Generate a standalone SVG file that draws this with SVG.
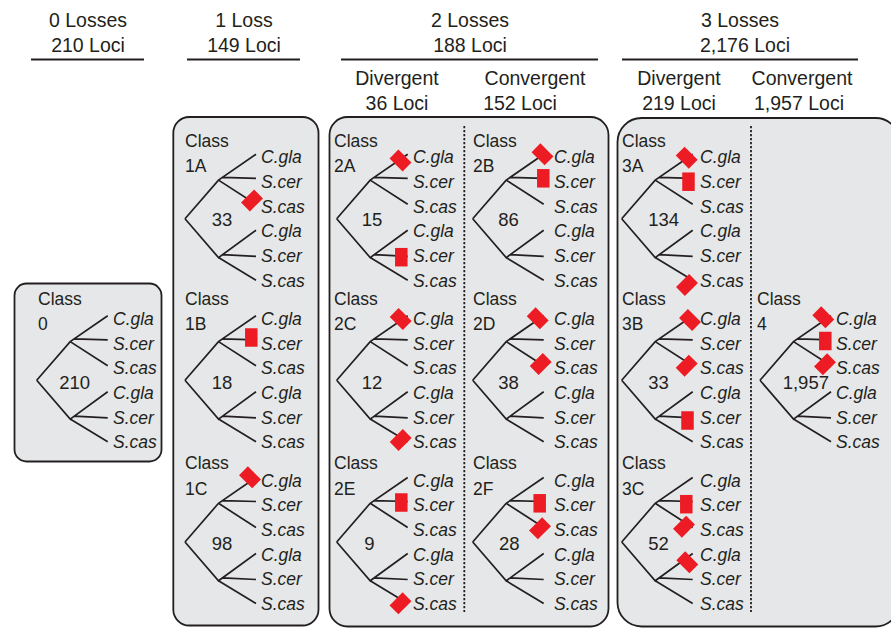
<svg xmlns="http://www.w3.org/2000/svg" xmlns:xlink="http://www.w3.org/1999/xlink" width="891" height="628" viewBox="0 0 891 628">
<style>
text{font-family:"Liberation Sans",Arial,sans-serif;fill:#231f20}
.hd{font-size:19.5px;text-anchor:middle}
.cl{font-size:17.5px}
.num{font-size:18.5px}
.sp{font-size:17.5px;font-style:italic}
.box{fill:#e6e7e8;stroke:#231f20;stroke-width:1.8}
.tr{fill:none;stroke:#231f20;stroke-width:1.7;stroke-linejoin:miter}
.rule{stroke:#231f20;stroke-width:2}
.dash{stroke:#231f20;stroke-width:1.8;stroke-dasharray:2.2 1.8}
.loss{fill:#ed1c24}
</style>
<defs>
<path id="tree" d="M0,55.5 L33.5,16.8 L71,-9 M37.5,14.1 L71,15 M33.5,16.8 L71,41 M0,55.5 L33.5,94.3 L71,67 M37.5,91.4 L71,93 M33.5,94.3 L71,117"/>
<rect id="mk" x="-6.25" y="-9.25" width="12.5" height="18.5"/>
</defs>

<g id="headers">
<text class="hd" x="88" y="27">0 Losses</text>
<text class="hd" x="88" y="52">210 Loci</text>
<line class="rule" x1="31" y1="59.5" x2="144" y2="59.5"/>
<text class="hd" x="244" y="27">1 Loss</text>
<text class="hd" x="244" y="52">149 Loci</text>
<line class="rule" x1="187" y1="59.5" x2="300" y2="59.5"/>
<text class="hd" x="470" y="27">2 Losses</text>
<text class="hd" x="470" y="52">188 Loci</text>
<line class="rule" x1="341" y1="59.5" x2="598" y2="59.5"/>
<text class="hd" x="740" y="27">3 Losses</text>
<text class="hd" x="745" y="52">2,176 Loci</text>
<line class="rule" x1="622" y1="59.5" x2="858" y2="59.5"/>
<text class="hd" x="397" y="85">Divergent</text>
<text class="hd" x="397" y="110">36 Loci</text>
<text class="hd" x="535" y="85">Convergent</text>
<text class="hd" x="520" y="110">152 Loci</text>
<text class="hd" x="679" y="85">Divergent</text>
<text class="hd" x="679" y="110">219 Loci</text>
<text class="hd" x="802" y="85">Convergent</text>
<text class="hd" x="799" y="110">1,957 Loci</text>
</g>

<g id="boxes">
<rect class="box" x="14.5" y="283.5" width="147" height="178" rx="12"/>
<rect class="box" x="173.3" y="117" width="145.2" height="508.5" rx="16"/>
<rect class="box" x="329.5" y="117" width="279" height="509.5" rx="18"/>
<rect class="box" x="617.5" y="118" width="282" height="508.5" rx="24"/>
<line class="dash" x1="464.3" y1="126" x2="464.3" y2="612"/>
<line class="dash" x1="751" y1="126" x2="751" y2="612"/>
</g>

<g id="class-0">
<use href="#tree" class="tr" transform="translate(36.7,324.8)"/>
<text class="cl" x="38" y="305">Class</text><text class="cl" x="38" y="330">0</text>
<text class="num" x="59.3" y="389">210</text>
<text class="sp"><tspan x="113" y="324.8">C.gla</tspan><tspan x="113" y="349.5">S.cer</tspan><tspan x="113" y="374.2">S.cas</tspan><tspan x="113" y="398.9">C.gla</tspan><tspan x="113" y="423.6">S.cer</tspan><tspan x="113" y="448.3">S.cas</tspan></text>
</g>

<g id="class-1A">
<use href="#tree" class="tr" transform="translate(185,163.3)"/>
<text class="cl" x="185" y="147">Class</text><text class="cl" x="185" y="172">1A</text>
<text class="num" x="211.7" y="226">33</text>
<text class="sp"><tspan x="261" y="163.3">C.gla</tspan><tspan x="261" y="188">S.cer</tspan><tspan x="261" y="212.7">S.cas</tspan><tspan x="261" y="237.4">C.gla</tspan><tspan x="261" y="262.1">S.cer</tspan><tspan x="261" y="286.8">S.cas</tspan></text>
<use href="#mk" class="loss" transform="translate(252,200.5) rotate(45)"/>
</g>

<g id="class-1B">
<use href="#tree" class="tr" transform="translate(185,324.8)"/>
<text class="cl" x="185" y="305">Class</text><text class="cl" x="185" y="330">1B</text>
<text class="num" x="211.7" y="388.5">18</text>
<text class="sp"><tspan x="261" y="324.8">C.gla</tspan><tspan x="261" y="349.5">S.cer</tspan><tspan x="261" y="374.2">S.cas</tspan><tspan x="261" y="398.9">C.gla</tspan><tspan x="261" y="423.6">S.cer</tspan><tspan x="261" y="448.3">S.cas</tspan></text>
<use href="#mk" class="loss" transform="translate(251.3,337.5)"/>
</g>

<g id="class-1C">
<use href="#tree" class="tr" transform="translate(185,486.5)"/>
<text class="cl" x="185" y="469">Class</text><text class="cl" x="185" y="495">1C</text>
<text class="num" x="211.7" y="550">98</text>
<text class="sp"><tspan x="261" y="486.5">C.gla</tspan><tspan x="261" y="511.2">S.cer</tspan><tspan x="261" y="535.9">S.cas</tspan><tspan x="261" y="560.6">C.gla</tspan><tspan x="261" y="585.3">S.cer</tspan><tspan x="261" y="610">S.cas</tspan></text>
<use href="#mk" class="loss" transform="translate(250,477.3) rotate(-45)"/>
</g>

<g id="class-2A">
<use href="#tree" class="tr" transform="translate(336.7,163.3)"/>
<text class="cl" x="334" y="147">Class</text><text class="cl" x="334" y="172">2A</text>
<text class="num" x="361.7" y="226">15</text>
<text class="sp"><tspan x="413" y="163.3">C.gla</tspan><tspan x="413" y="188">S.cer</tspan><tspan x="413" y="212.7">S.cas</tspan><tspan x="413" y="237.4">C.gla</tspan><tspan x="413" y="262.1">S.cer</tspan><tspan x="413" y="286.8">S.cas</tspan></text>
<use href="#mk" class="loss" transform="translate(400.5,160.5) rotate(-45)"/>
<use href="#mk" class="loss" transform="translate(401.3,257.2)"/>
</g>

<g id="class-2B">
<use href="#tree" class="tr" transform="translate(472.7,163.3)"/>
<text class="cl" x="473" y="147">Class</text><text class="cl" x="473" y="172">2B</text>
<text class="num" x="498.3" y="226">86</text>
<text class="sp"><tspan x="554" y="163.3">C.gla</tspan><tspan x="554" y="188">S.cer</tspan><tspan x="554" y="212.7">S.cas</tspan><tspan x="554" y="237.4">C.gla</tspan><tspan x="554" y="262.1">S.cer</tspan><tspan x="554" y="286.8">S.cas</tspan></text>
<use href="#mk" class="loss" transform="translate(542.5,154.3) rotate(-45)"/>
<use href="#mk" class="loss" transform="translate(543.3,178.3)"/>
</g>

<g id="class-2C">
<use href="#tree" class="tr" transform="translate(336.7,324.8)"/>
<text class="cl" x="334" y="305">Class</text><text class="cl" x="334" y="330">2C</text>
<text class="num" x="361.7" y="388.5">12</text>
<text class="sp"><tspan x="413" y="324.8">C.gla</tspan><tspan x="413" y="349.5">S.cer</tspan><tspan x="413" y="374.2">S.cas</tspan><tspan x="413" y="398.9">C.gla</tspan><tspan x="413" y="423.6">S.cer</tspan><tspan x="413" y="448.3">S.cas</tspan></text>
<use href="#mk" class="loss" transform="translate(400.7,319) rotate(-45)"/>
<use href="#mk" class="loss" transform="translate(400.7,440) rotate(45)"/>
</g>

<g id="class-2D">
<use href="#tree" class="tr" transform="translate(472.7,324.8)"/>
<text class="cl" x="473" y="305">Class</text><text class="cl" x="473" y="330">2D</text>
<text class="num" x="498.3" y="388.5">38</text>
<text class="sp"><tspan x="554" y="324.8">C.gla</tspan><tspan x="554" y="349.5">S.cer</tspan><tspan x="554" y="374.2">S.cas</tspan><tspan x="554" y="398.9">C.gla</tspan><tspan x="554" y="423.6">S.cer</tspan><tspan x="554" y="448.3">S.cas</tspan></text>
<use href="#mk" class="loss" transform="translate(537.7,318.3) rotate(-45)"/>
<use href="#mk" class="loss" transform="translate(540.7,364) rotate(45)"/>
</g>

<g id="class-2E">
<use href="#tree" class="tr" transform="translate(336.7,486.5)"/>
<text class="cl" x="334" y="469">Class</text><text class="cl" x="334" y="495">2E</text>
<text class="num" x="364.3" y="550">9</text>
<text class="sp"><tspan x="413" y="486.5">C.gla</tspan><tspan x="413" y="511.2">S.cer</tspan><tspan x="413" y="535.9">S.cas</tspan><tspan x="413" y="560.6">C.gla</tspan><tspan x="413" y="585.3">S.cer</tspan><tspan x="413" y="610">S.cas</tspan></text>
<use href="#mk" class="loss" transform="translate(401.3,502.5)"/>
<use href="#mk" class="loss" transform="translate(400.5,603.3) rotate(45)"/>
</g>

<g id="class-2F">
<use href="#tree" class="tr" transform="translate(472.7,486.5)"/>
<text class="cl" x="473" y="469">Class</text><text class="cl" x="473" y="495">2F</text>
<text class="num" x="499" y="550">28</text>
<text class="sp"><tspan x="554" y="486.5">C.gla</tspan><tspan x="554" y="511.2">S.cer</tspan><tspan x="554" y="535.9">S.cas</tspan><tspan x="554" y="560.6">C.gla</tspan><tspan x="554" y="585.3">S.cer</tspan><tspan x="554" y="610">S.cas</tspan></text>
<use href="#mk" class="loss" transform="translate(539.7,503.3)"/>
<use href="#mk" class="loss" transform="translate(540,528.3) rotate(45)"/>
</g>

<g id="class-3A">
<use href="#tree" class="tr" transform="translate(621.7,163.3)"/>
<text class="cl" x="622" y="147">Class</text><text class="cl" x="622" y="172">3A</text>
<text class="num" x="648.3" y="226">134</text>
<text class="sp"><tspan x="700" y="163.3">C.gla</tspan><tspan x="700" y="188">S.cer</tspan><tspan x="700" y="212.7">S.cas</tspan><tspan x="700" y="237.4">C.gla</tspan><tspan x="700" y="262.1">S.cer</tspan><tspan x="700" y="286.8">S.cas</tspan></text>
<use href="#mk" class="loss" transform="translate(686.7,157.7) rotate(-45)"/>
<use href="#mk" class="loss" transform="translate(688.5,181.7)"/>
<use href="#mk" class="loss" transform="translate(687,285) rotate(45)"/>
</g>

<g id="class-3B">
<use href="#tree" class="tr" transform="translate(621.7,324.8)"/>
<text class="cl" x="622" y="305">Class</text><text class="cl" x="622" y="330">3B</text>
<text class="num" x="648.3" y="388.5">33</text>
<text class="sp"><tspan x="700" y="324.8">C.gla</tspan><tspan x="700" y="349.5">S.cer</tspan><tspan x="700" y="374.2">S.cas</tspan><tspan x="700" y="398.9">C.gla</tspan><tspan x="700" y="423.6">S.cer</tspan><tspan x="700" y="448.3">S.cas</tspan></text>
<use href="#mk" class="loss" transform="translate(690,320) rotate(-45)"/>
<use href="#mk" class="loss" transform="translate(686.7,365.7) rotate(45)"/>
<use href="#mk" class="loss" transform="translate(687.5,420.5)"/>
</g>

<g id="class-3C">
<use href="#tree" class="tr" transform="translate(621.7,486.5)"/>
<text class="cl" x="622" y="469">Class</text><text class="cl" x="622" y="495">3C</text>
<text class="num" x="648.3" y="550">52</text>
<text class="sp"><tspan x="700" y="486.5">C.gla</tspan><tspan x="700" y="511.2">S.cer</tspan><tspan x="700" y="535.9">S.cas</tspan><tspan x="700" y="560.6">C.gla</tspan><tspan x="700" y="585.3">S.cer</tspan><tspan x="700" y="610">S.cas</tspan></text>
<use href="#mk" class="loss" transform="translate(686.3,504.2)"/>
<use href="#mk" class="loss" transform="translate(684,526.7) rotate(45)"/>
<use href="#mk" class="loss" transform="translate(687.3,562.3) rotate(-45)"/>
</g>

<g id="class-4">
<use href="#tree" class="tr" transform="translate(760,324.8)"/>
<text class="cl" x="757" y="305">Class</text><text class="cl" x="757" y="330">4</text>
<text class="num" x="782.7" y="388.5">1,957</text>
<text class="sp"><tspan x="836" y="324.8">C.gla</tspan><tspan x="836" y="349.5">S.cer</tspan><tspan x="836" y="374.2">S.cas</tspan><tspan x="836" y="398.9">C.gla</tspan><tspan x="836" y="423.6">S.cer</tspan><tspan x="836" y="448.3">S.cas</tspan></text>
<use href="#mk" class="loss" transform="translate(823.3,317.3) rotate(-45)"/>
<use href="#mk" class="loss" transform="translate(825.3,341)"/>
<use href="#mk" class="loss" transform="translate(825,364.3) rotate(45)"/>
</g>
</svg>
